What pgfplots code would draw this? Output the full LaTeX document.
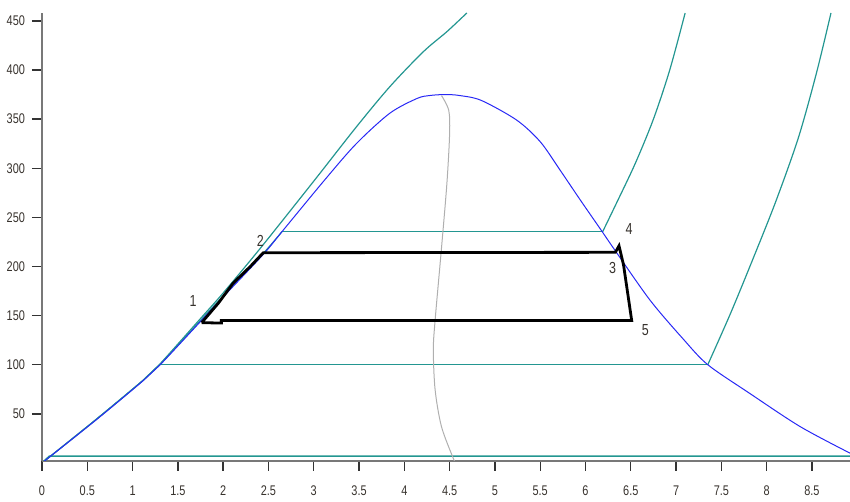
\documentclass[border=0pt]{standalone}
\usepackage{fontspec}
\setmainfont{Liberation Sans}[FakeStretch=0.78]
\usepackage{pgfplots}
\pgfplotsset{compat=1.18}
\definecolor{dome}{RGB}{40,40,245}
\definecolor{isobar}{RGB}{35,150,145}
\definecolor{quality}{RGB}{175,175,175}
\definecolor{axisgray}{RGB}{120,120,120}
\definecolor{labeltxt}{RGB}{55,50,45}

\begin{document}
\begin{tikzpicture}
\begin{axis}[
  scale only axis,
  width=404pt,height=224pt,
  xmin=0,xmax=8.92,ymin=2,ymax=458,
  axis x line=bottom,axis y line=left,
  axis line style={-,axisgray,line width=0.8pt},
  xtick={0,0.5,...,8.5},ytick={50,100,...,450},
  tick align=outside,major tick length=5pt,
  tick style={black!80,line width=0.7pt},
  /pgf/number format/assume math mode=true,
  xticklabel style={yshift=-4pt},
  tick label style={font=\fontsize{7}{8}\selectfont,text=labeltxt},
  every axis plot/.append style={line join=round},
  clip=true]
  % low pressure isobar
  \addplot[isobar,line width=0.7pt] coordinates {(0,0) (0.08,7) (8.92,7)};
  % supercritical isobar
  \addplot[isobar,line width=0.6pt,smooth,tension=0.5] coordinates {
    (0,0) (0.6,44.5) (1.12,84.5) (1.3,100.5) (1.75,147) (2.0,173)
    (2.41,218.5) (3.01,288) (3.47,342) (3.84,383) (4.21,418.6) (4.47,439) (4.69,458)};
  % isobar 235
  \addplot[isobar,line width=0.6pt,smooth,tension=0.5] coordinates {
    (0,0) (0.6,44.5) (1.12,84.5) (1.3,100) (1.75,145) (2.0,170) (2.44,213) (2.65,235.5)};
  \addplot[isobar,line width=0.6pt] coordinates {(2.65,235.5) (6.19,235.5)};
  \addplot[isobar,line width=0.6pt,smooth,tension=0.5] coordinates {
    (6.19,235.5) (6.35,266) (6.55,305) (6.75,350) (6.93,400) (7.10,458)};
  % isobar 100
  \addplot[isobar,line width=0.6pt] coordinates {(1.3,100) (7.35,100)};
  \addplot[isobar,line width=0.6pt,smooth,tension=0.5] coordinates {
    (7.35,100) (7.6,152) (7.85,208) (8.1,266) (8.35,331) (8.55,397) (8.71,458)};
  % saturation dome
  \addplot[dome,line width=0.5pt,smooth,tension=0.5] coordinates {
    (0,0) (0.6,44) (1.12,84) (1.3,99.5) (1.75,144) (2.0,169) (2.44,212)
    (2.65,235.5) (3.12,288) (3.47,325) (3.84,356) (4.14,371) (4.28,374)
    (4.45,375) (4.61,374) (4.85,369) (5.24,349) (5.50,327) (5.72,298) (5.94,268)
    (6.18,236) (6.31,218.5) (6.71,166) (7.08,126) (7.35,100)
    (7.81,71) (8.37,37) (8.92,10)};
  % quality line
  \addplot[quality,line width=0.5pt,smooth,tension=0.5] coordinates {
    (4.41,374) (4.49,359) (4.50,335.6) (4.47,284.7) (4.41,218.5)
    (4.34,145.5) (4.32,115) (4.34,74.3) (4.41,37) (4.54,4.8) (4.56,2)};
  % cycle
  \addplot[black,line width=1.4pt,line join=miter] coordinates {
    (1.763,142.8) (1.95,163) (2.11,183) (2.3,200) (2.443,214)
    (6.33,214.4) (6.37,221) (6.42,201.5) (6.51,145)
    (1.98,145) (1.98,142.4) (1.763,142.8)};
  \node[text=labeltxt,font=\fontsize{8}{9}\selectfont] at (axis cs:1.667,165) {1};
  \node[text=labeltxt,font=\fontsize{8}{9}\selectfont] at (axis cs:2.41,226) {2};
  \node[text=labeltxt,font=\fontsize{8}{9}\selectfont] at (axis cs:6.30,198.5) {3};
  \node[text=labeltxt,font=\fontsize{8}{9}\selectfont] at (axis cs:6.48,238) {4};
  \node[text=labeltxt,font=\fontsize{8}{9}\selectfont] at (axis cs:6.66,135) {5};
\end{axis}
\pgfresetboundingbox
\path[use as bounding box] (-21pt,-20.5pt) rectangle (404pt,230.5pt);
\end{tikzpicture}
\end{document}
